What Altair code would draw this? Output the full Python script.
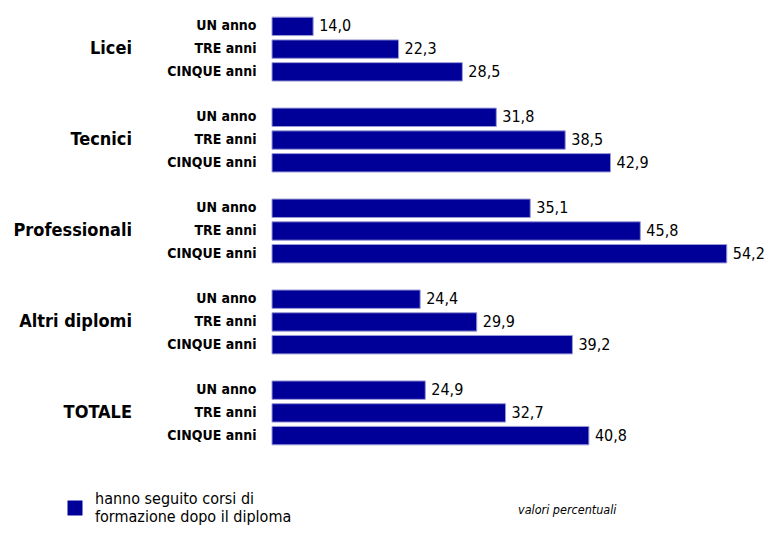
import altair as alt
import pandas as pd

groups = ["Licei", "Tecnici", "Professionali", "Altri diplomi", "TOTALE"]
subs = ["UN anno", "TRE anni", "CINQUE anni"]
licei = [14.0, 22.3, 28.5]
tecnici = [31.8, 38.5, 42.9]
professionali = [35.1, 45.8, 54.2]
altri = [24.4, 29.9, 39.2]
totale = [24.9, 32.7, 40.8]
series_name = "hanno seguito corsi di|formazione dopo il diploma"
note = ["valori percentuali"]

vals = [licei, tecnici, professionali, altri, totale]
rows = []
domain = []
for gi, g in enumerate(groups):
    for si, s in enumerate(subs):
        key = f"{g}|{s}"
        domain.append(key)
        rows.append({"group": g, "sub": s, "key": key, "value": vals[gi][si], "serie": series_name})
    if gi < len(groups) - 1:
        domain.append(f"spacer{gi}")
df = pd.DataFrame(rows)

FONT = "DejaVu Sans Condensed"
BAR = "#000099"

y = alt.Y("key:N", scale=alt.Scale(domain=domain, paddingInner=0.19, paddingOuter=0.095),
          axis=alt.Axis(title=None, domain=False, ticks=False, grid=False, labelPadding=16,
                        labelFont=FONT, labelFontWeight="bold", labelFontSize=14,
                        labelColor="black",
                        labelExpr="indexof(datum.value, '|') >= 0 ? split(datum.value, '|')[1] : ''"))
x = alt.X("value:Q", scale=alt.Scale(domain=[10, 55], zero=False, nice=False, clamp=True), axis=None)

base = alt.Chart(df)

bars = base.mark_bar(stroke="#9a9ad6", strokeWidth=1).encode(
    x=x, y=y,
    color=alt.Color("serie:N", scale=alt.Scale(range=[BAR]),
                    legend=alt.Legend(title=None, orient="none", legendX=-205, legendY=485,
                                      symbolType="square", symbolSize=225, symbolStrokeWidth=0,
                                      labelFont=FONT, labelFontSize=16, labelColor="black",
                                      labelLimit=0, labelOffset=12, labelBaseline="line-bottom",
                                      labelExpr="split(datum.label, '|')")),
)

labels = base.transform_calculate(
    lab="replace(format(datum.value, '.1f'), '.', ',')"
).mark_text(align="left", baseline="middle", dx=6, font=FONT, fontSize=16, color="black").encode(
    x=x, y=y, text="lab:N"
)

group_labels = base.transform_filter(alt.datum.sub == "TRE anni").mark_text(
    align="right", baseline="middle", font=FONT, fontWeight="bold", fontSize=18, color="black"
).encode(x=alt.value(-140), y=y, text="group:N")

note_df = pd.DataFrame({"t": note})
note_text = alt.Chart(note_df).mark_text(
    align="left", baseline="alphabetic", font=FONT, fontSize=12.5, fontStyle="italic", color="black"
).encode(x=alt.value(246), y=alt.value(499), text="t:N")

chart = alt.layer(bars, labels, group_labels, note_text).properties(
    width=463, height=432,
    autosize="none",
    padding={"left": 264, "top": 7, "right": 30, "bottom": 79},
).configure(
    style={"guide-label": {"lineHeight": 18}},
    view={"stroke": None},
)

chart.save("out.html", embed_options={"renderer": "svg", "actions": False})
